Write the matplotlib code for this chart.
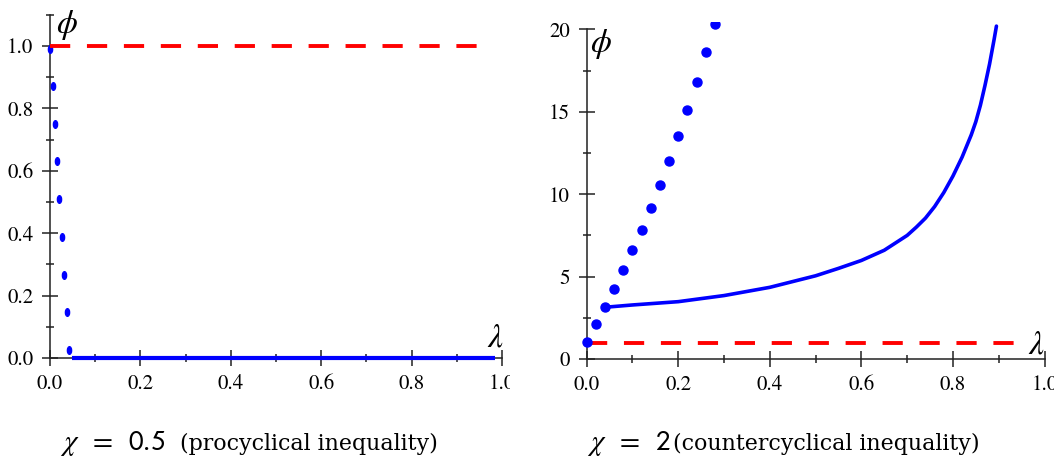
import matplotlib
matplotlib.use("Agg")
import matplotlib.pyplot as plt
from matplotlib.markers import MarkerStyle
from matplotlib.transforms import Affine2D, Bbox, TransformedBbox

plt.rcParams["mathtext.fontset"] = "stix"
plt.rcParams["font.family"] = "STIXGeneral"

W, H = 1054, 461

# ---- data ----
x_ticks = [0.0, 0.2, 0.4, 0.6, 0.8, 1.0]
x_ticklabels = ["0.0", "0.2", "0.4", "0.6", "0.8", "1.0"]
x_minor = [0.1, 0.3, 0.5, 0.7, 0.9]

# left panel, chi = 0.5
left_y_ticks = [0.0, 0.2, 0.4, 0.6, 0.8, 1.0]
left_y_ticklabels = ["0.0", "0.2", "0.4", "0.6", "0.8", "1.0"]
left_y_minor = [0.1, 0.3, 0.5, 0.7, 0.9, 1.1]
left_dots_x = [0.001, 0.006, 0.012, 0.016, 0.021, 0.026, 0.032, 0.037, 0.042]
left_dots_y = [0.99, 0.872, 0.75, 0.63, 0.51, 0.389, 0.266, 0.147, 0.026]
left_line_x = [0.048, 0.985]
left_line_y = [0.0, 0.0]

# right panel, chi = 2
right_y_ticks = [0, 5, 10, 15, 20]
right_y_ticklabels = ["0", "5", "10", "15", "20"]
right_y_minor = [2.5, 7.5, 12.5, 17.5]
right_dots_x = [0.0, 0.02, 0.04, 0.06, 0.08, 0.10, 0.12, 0.14, 0.16, 0.18,
                0.20, 0.22, 0.24, 0.26, 0.28]
right_dots_y = [1.05, 2.1, 3.14, 4.23, 5.4, 6.61, 7.85, 9.16, 10.56, 12.0,
                13.53, 15.1, 16.8, 18.6, 20.3]
curve_x = [0.04, 0.10, 0.20, 0.30, 0.40, 0.50, 0.55, 0.60, 0.65, 0.70, 0.72,
           0.74, 0.76, 0.78, 0.80, 0.82, 0.84, 0.85, 0.86, 0.87, 0.88, 0.89,
           0.895]
curve_y = [3.14, 3.28, 3.48, 3.85, 4.35, 5.05, 5.5, 5.98, 6.6, 7.5, 8.0,
           8.55, 9.25, 10.1, 11.1, 12.25, 13.6, 14.4, 15.4, 16.6, 17.9, 19.4,
           20.2]

ref_x = [0.0, 0.96]
ref_y = [1.0, 1.0]

captions = [(r"$\chi\;\;=\;\;\mathsf{0.5}$", "(procyclical inequality)"),
            (r"$\chi\;\;=\;\;\mathsf{2}$", "(countercyclical inequality)")]

fig = plt.figure(figsize=(W / 100, H / 100), dpi=100)


def axes_px(x0, x1, y0, y1):
    # pixel edges, y measured from the top
    return fig.add_axes([x0 / W, 1 - y1 / H, (x1 - x0) / W, (y1 - y0) / H])


def style(ax, yticks, ylabels, yminor, ytop):
    for s in ["top", "right"]:
        ax.spines[s].set_visible(False)
    for s in ["left", "bottom"]:
        ax.spines[s].set_position(("data", 0))
        ax.spines[s].set_linewidth(1.1)
        ax.spines[s].set_color("#222222")
    ax.spines["left"].set_bounds(0, ytop)
    ax.spines["bottom"].set_bounds(0, 1)
    ax.set_xticks(x_ticks)
    ax.set_xticklabels(x_ticklabels)
    ax.set_xticks(x_minor, minor=True)
    ax.set_yticks(yticks)
    ax.set_yticklabels(ylabels)
    ax.set_yticks(yminor, minor=True)
    ax.tick_params(which="major", direction="inout", length=11, width=1.1,
                   pad=6.5, labelsize=15, color="#222222")
    ax.tick_params(which="minor", direction="inout", length=6, width=1.1,
                   color="#222222")
    ax.patch.set_visible(False)


# ---- left panel ----
ax1 = axes_px(40.96, 502, 14.8, 373.6)
ax1.set_xlim(-0.02, 1.0)
ax1.set_ylim(-0.05, 1.1)
style(ax1, left_y_ticks, left_y_ticklabels, left_y_minor, 1.1)
ax1.plot(left_line_x, left_line_y, color="#0000ff", lw=3, zorder=3,
         solid_capstyle="butt")
ax1.plot(left_dots_x, left_dots_y, ls="none", color="#0000ff",
         marker=MarkerStyle("o", transform=Affine2D().scale(0.55, 1)),
         markersize=5.5, zorder=3)
ax1.plot(ref_x, ref_y, color="#ff0000", lw=2.8, dashes=(5.2, 4.3), zorder=4)
ax1.annotate(r"$\phi$", xy=(0, 1.1), xytext=(4.3, 5), textcoords="offset points",
             ha="left", va="top", fontsize=24, annotation_clip=False)
ax1.text(0.985, 0.014, r"$\lambda$", ha="center", va="bottom", fontsize=24)

clip = TransformedBbox(Bbox([[0, 0], [510 / W, 1]]), fig.transFigure)
for t in ax1.get_xticklabels():
    t.set_clip_box(clip)
    t.set_clip_on(True)

# ---- right panel ----
ax2 = axes_px(577.5, 1044.5, 22, 375.5)
ax2.set_xlim(-0.02, 1.0)
ax2.set_ylim(-1, 20.45)
style(ax2, right_y_ticks, right_y_ticklabels, right_y_minor, 20)
ax2.plot(curve_x, curve_y, color="#0000ff", lw=2.6, zorder=3,
         solid_capstyle="round", solid_joinstyle="round")
ax2.plot(ref_x, ref_y, color="#ff0000", lw=2.8, dashes=(5.2, 4.3), zorder=3)
ax2.plot(right_dots_x, right_dots_y, ls="none", color="#0000ff", marker="o",
         markersize=6.5, zorder=4)
ax2.annotate(r"$\phi$", xy=(0, 20), xytext=(2.4, 1.5), textcoords="offset points",
             ha="left", va="top", fontsize=24, annotation_clip=False)
ax2.text(0.9825, -0.1, r"$\lambda$", ha="center", va="bottom", fontsize=24)

# ---- captions ----
for (math, words), (xm, xw) in zip(captions, [(60, 180), (587, 673)]):
    fig.text(xm / W, 1 - 450 / H, math, fontsize=21, ha="left", va="baseline")
    fig.text(xw / W, 1 - 450 / H, words, fontsize=15.9, ha="left",
             va="baseline", family="DejaVu Serif")

fig.savefig("out.png", dpi=100)
